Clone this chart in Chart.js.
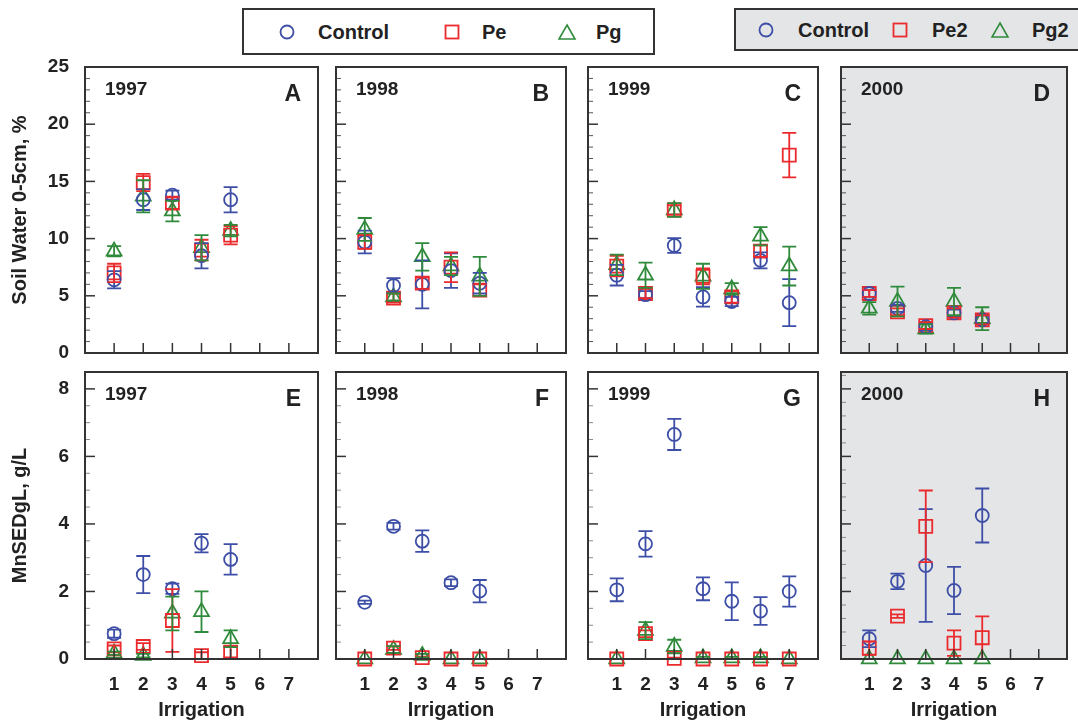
<!DOCTYPE html>
<html><head><meta charset="utf-8">
<script src="https://cdn.jsdelivr.net/npm/chart.js@4.4.1/dist/chart.umd.min.js"></script>
<style>
html,body{margin:0;padding:0;background:#fff;}
body{width:1078px;height:727px;overflow:hidden;position:relative;font-family:"Liberation Sans",Arial,sans-serif;}
canvas{position:absolute;}
.legend{position:absolute;box-sizing:border-box;border:2px solid #333;font-weight:bold;color:#222;}
.legend span{position:absolute;top:50%;transform:translateY(-50%);white-space:nowrap;}
.legend svg{position:absolute;top:50%;transform:translate(-50%,-50%);overflow:visible;}
</style></head><body>

<div class="legend" style="left:242px;top:8px;width:413px;height:47px;background:#fff;font-size:20px;">
  <svg width="16" height="16" style="left:43px"><circle cx="8" cy="8" r="6.5" fill="none" stroke="#3d4ea6" stroke-width="1.8"/></svg>
  <span style="left:74px">Control</span>
  <svg width="16" height="16" style="left:208px"><rect x="1.5" y="1.5" width="13" height="13" fill="none" stroke="#ea2a2d" stroke-width="1.8"/></svg>
  <span style="left:238px">Pe</span>
  <svg width="18" height="16" style="left:323px"><polygon points="9,1 17,15 1,15" fill="none" stroke="#2f8a3b" stroke-width="1.6"/></svg>
  <span style="left:352px">Pg</span>
</div>
<div class="legend" style="left:734px;top:8px;width:350px;height:43px;background:#e4e5e7;font-size:20px;">
  <svg width="16" height="16" style="left:30px"><circle cx="8" cy="8" r="6.5" fill="none" stroke="#3d4ea6" stroke-width="1.8"/></svg>
  <span style="left:62px">Control</span>
  <svg width="16" height="16" style="left:164px"><rect x="1.5" y="1.5" width="13" height="13" fill="none" stroke="#ea2a2d" stroke-width="1.8"/></svg>
  <span style="left:196px">Pe2</span>
  <svg width="18" height="16" style="left:264px"><polygon points="9,1 17,15 1,15" fill="none" stroke="#2f8a3b" stroke-width="1.6"/></svg>
  <span style="left:296px">Pg2</span>
</div>

<script>
// ---------------- DATA ----------------
const irrigation5 = [1, 2, 3, 4, 5];
const irrigation7 = [1, 2, 3, 4, 5, 6, 7];
const xTickLabels = ['1', '2', '3', '4', '5', '6', '7'];

// Soil water 0-5cm (%) : mean values and error half-widths
const swControl1997 = [6.4, 13.4, 13.8, 8.5, 13.4];
const swControl1997Err = [0.75, 0.9, 0.4, 1.1, 1.1];
const swPe1997 = [7.0, 14.9, 13.1, 9.0, 10.3];
const swPe1997Err = [0.8, 0.75, 0.5, 0.9, 0.8];
const swPg1997 = [8.9, 13.7, 12.4, 9.2, 10.7];
const swPg1997Err = [0.45, 1.4, 0.9, 1.1, 0.5];

const swControl1998 = [9.7, 5.9, 6.0, 7.2, 6.1];
const swControl1998Err = [1.0, 0.65, 2.1, 1.5, 0.9];
const swPe1998 = [9.7, 4.8, 6.1, 7.5, 5.5];
const swPe1998Err = [0.6, 0.4, 0.5, 1.3, 0.5];
const swPg1998 = [10.8, 4.9, 8.4, 7.6, 6.7];
const swPg1998Err = [1.0, 0.3, 1.2, 0.8, 1.7];

const swControl1999 = [6.8, 5.1, 9.4, 4.9, 4.5, 8.1, 4.4];
const swControl1999Err = [0.9, 0.3, 0.65, 0.85, 0.4, 0.7, 2.05];
const swPe1999 = [7.6, 5.2, 12.5, 6.7, 4.9, 8.9, 17.3];
const swPe1999Err = [0.9, 0.4, 0.4, 0.7, 0.5, 0.5, 1.95];
const swPg1999 = [7.7, 6.8, 12.5, 6.7, 5.6, 10.2, 7.6];
const swPg1999Err = [0.9, 1.1, 0.6, 1.1, 0.5, 0.8, 1.7];

const swControl2000 = [5.2, 3.9, 2.3, 3.5, 2.9];
const swControl2000Err = [0.3, 0.3, 0.3, 0.3, 0.4];
const swPe2_2000 = [5.2, 3.6, 2.4, 3.5, 2.9];
const swPe2_2000Err = [0.3, 0.3, 0.3, 0.4, 0.4];
const swPg2_2000 = [3.9, 4.5, 2.1, 4.5, 3.0];
const swPg2_2000Err = [0.55, 1.3, 0.4, 1.2, 1.0];

// MnSEDgL (g/L)
const sedControl1997 = [0.75, 2.5, 2.08, 3.43, 2.95];
const sedControl1997Err = [0.12, 0.55, 0.15, 0.27, 0.45];
const sedPe1997 = [0.3, 0.37, 1.14, 0.1, 0.2];
const sedPe1997Err = [0.1, 0.1, 0.93, 0.1, 0.15];
const sedPg1997 = [0.17, 0.1, 1.35, 1.4, 0.6];
const sedPg1997Err = [0.05, 0.05, 0.5, 0.6, 0.25];

const sedControl1998 = [1.68, 3.93, 3.49, 2.26, 2.01];
const sedControl1998Err = [0.05, 0.1, 0.32, 0.1, 0.33];
const sedPe1998 = [0, 0.32, 0.04, 0, 0];
const sedPe1998Err = [0, 0.05, 0.03, 0, 0];
const sedPg1998 = [0, 0.28, 0.1, 0, 0];
const sedPg1998Err = [0, 0.1, 0.05, 0, 0];

const sedControl1999 = [2.05, 3.41, 6.65, 2.08, 1.71, 1.42, 2.0];
const sedControl1999Err = [0.34, 0.38, 0.46, 0.34, 0.56, 0.41, 0.45];
const sedPe1999 = [0, 0.75, 0.02, 0, 0, 0, 0];
const sedPe1999Err = [0, 0.1, 0.02, 0, 0, 0, 0];
const sedPg1999 = [0, 0.84, 0.37, 0.03, 0.03, 0.03, 0];
const sedPg1999Err = [0, 0.25, 0.2, 0.03, 0.03, 0.03, 0];

const sedControl2000 = [0.6, 2.3, 2.77, 2.03, 4.25];
const sedControl2000Err = [0.25, 0.23, 1.67, 0.7, 0.8];
const sedPe2_2000 = [0.32, 1.27, 3.93, 0.47, 0.63];
const sedPe2_2000Err = [0.2, 0.05, 1.06, 0.38, 0.63];
const sedPg2_2000 = [0, 0, 0, 0, 0];
const sedPg2_2000Err = [0, 0, 0, 0, 0];

const yTitleTop = 'Soil Water 0-5cm, %';
const yTitleBottom = 'MnSEDgL, g/L';
const xTitle = 'Irrigation';

// ---------------- STYLE / LAYOUT ----------------
const BLUE = '#3d4ea6', RED = '#ea2a2d', GREEN = '#2f8a3b', GREYBG = '#e4e5e7';
const FONT = '"Liberation Sans", Arial, sans-serif';
const colLeft = [85, 333, 585, 838];
const panelW = 238;
const rowTop = [67, 372], rowBottom = [353, 659];

const panels = [
  {letter:'A', year:'1997', row:0, col:0, x:irrigation5, s:[[swControl1997, swControl1997Err],[swPe1997, swPe1997Err],[swPg1997, swPg1997Err]]},
  {letter:'B', year:'1998', row:0, col:1, x:irrigation5, s:[[swControl1998, swControl1998Err],[swPe1998, swPe1998Err],[swPg1998, swPg1998Err]]},
  {letter:'C', year:'1999', row:0, col:2, x:irrigation7, s:[[swControl1999, swControl1999Err],[swPe1999, swPe1999Err],[swPg1999, swPg1999Err]]},
  {letter:'D', year:'2000', row:0, col:3, x:irrigation5, bg:GREYBG, s:[[swControl2000, swControl2000Err],[swPe2_2000, swPe2_2000Err],[swPg2_2000, swPg2_2000Err]]},
  {letter:'E', year:'1997', row:1, col:0, x:irrigation5, s:[[sedControl1997, sedControl1997Err],[sedPe1997, sedPe1997Err],[sedPg1997, sedPg1997Err]]},
  {letter:'F', year:'1998', row:1, col:1, x:irrigation5, s:[[sedControl1998, sedControl1998Err],[sedPe1998, sedPe1998Err],[sedPg1998, sedPg1998Err]]},
  {letter:'G', year:'1999', row:1, col:2, x:irrigation7, s:[[sedControl1999, sedControl1999Err],[sedPe1999, sedPe1999Err],[sedPg1999, sedPg1999Err]]},
  {letter:'H', year:'2000', row:1, col:3, x:irrigation5, bg:GREYBG, minor:0.4, s:[[sedControl2000, sedControl2000Err],[sedPe2_2000, sedPe2_2000Err],[sedPg2_2000, sedPg2_2000Err]]},
];

const seriesStyle = [
  {color:BLUE, pointStyle:'circle', radius:6.5},
  {color:RED, pointStyle:'rect', radius:9.2},
  {color:GREEN, pointStyle:'triangle', radius:8.6},
];

const decoPlugin = {
  id: 'deco',
  beforeDatasetsDraw(chart, args, o) {
    const {ctx, chartArea:a} = chart;
    if (o.bg) {
      ctx.save(); ctx.fillStyle = o.bg;
      ctx.fillRect(a.left, a.top, a.right - a.left, a.bottom - a.top);
      ctx.restore();
    }
  },
  afterDatasetsDraw(chart, args, o) {
    const {ctx} = chart, xs = chart.scales.x, ys = chart.scales.y;
    chart.data.datasets.forEach(ds => {
      ctx.save(); ctx.strokeStyle = ds.borderColor; ctx.lineWidth = 1.8;
      ds.data.forEach((p, i) => {
        const e = ds.errors[i];
        if (!e) return;
        const px = xs.getPixelForValue(p.x);
        const y1 = ys.getPixelForValue(p.y + e), y2 = ys.getPixelForValue(p.y - e);
        ctx.beginPath();
        ctx.moveTo(px, y1); ctx.lineTo(px, y2);
        ctx.moveTo(px - 7, y1); ctx.lineTo(px + 7, y1);
        ctx.moveTo(px - 7, y2); ctx.lineTo(px + 7, y2);
        ctx.stroke();
      });
      ctx.restore();
    });
  },
  afterDraw(chart, args, o) {
    const {ctx, chartArea:a} = chart, xs = chart.scales.x, ys = chart.scales.y;
    ctx.save();
    // inward y ticks
    const n = Math.round(o.ymax / o.minor);
    for (let k = 0; k <= n; k++) {
      const v = k * o.minor;
      const r = v / o.major;
      const major = Math.abs(r - Math.round(r)) < 1e-6;
      const py = ys.getPixelForValue(v);
      if (py < a.top + 1) continue;
      ctx.beginPath();
      ctx.strokeStyle = major ? '#333' : o.minorColor;
      ctx.lineWidth = major ? 1.5 : 1;
      ctx.moveTo(a.left, py); ctx.lineTo(a.left + (major ? 10 : 5), py);
      ctx.stroke();
    }
    // inward x ticks
    for (let v = 1; v <= 7; v++) {
      const px = xs.getPixelForValue(v);
      ctx.beginPath(); ctx.strokeStyle = '#333'; ctx.lineWidth = 1.5;
      ctx.moveTo(px, a.bottom); ctx.lineTo(px, a.bottom - 10); ctx.stroke();
    }
    // frame
    ctx.strokeStyle = '#333'; ctx.lineWidth = 2;
    ctx.strokeRect(a.left, a.top, a.right - a.left, a.bottom - a.top);
    // texts
    ctx.fillStyle = '#222';
    ctx.textBaseline = 'middle';
    ctx.font = 'bold 19px ' + FONT;
    ctx.textAlign = 'left';
    ctx.fillText(o.year, a.left + 20, a.top + 23);
    ctx.font = 'bold 23px ' + FONT;
    ctx.textAlign = 'right';
    ctx.fillText(o.letter, a.right - 17, a.top + 28);
    ctx.restore();
  }
};

function zeroPad(s) { s.paddingTop = 0; s.paddingBottom = 0; s.paddingLeft = 0; s.paddingRight = 0; }

panels.forEach(p => {
  const L = colLeft[p.col], T = rowTop[p.row], B = rowBottom[p.row];
  const top = p.row === 0;
  const showY = p.col === 0, showX = !top;
  const ml = showY ? L : 8;
  const mr = p.col === 3 ? 2 : 6;
  const mt = 14;
  const mb = top ? 14 : 727 - B;
  const cv = document.createElement('canvas');
  const w = panelW + ml + mr, h = (B - T) + mt + mb;
  cv.width = w; cv.height = h;
  cv.style.left = (L - ml) + 'px'; cv.style.top = (T - mt) + 'px';
  cv.style.width = w + 'px'; cv.style.height = h + 'px';
  document.body.appendChild(cv);

  const datasets = p.s.map((pair, si) => {
    const st = seriesStyle[si];
    return {
      data: pair[0].map((v, i) => ({x: p.x[i], y: v})),
      errors: pair[1],
      borderColor: st.color,
      backgroundColor: 'rgba(0,0,0,0)',
      pointStyle: st.pointStyle,
      pointRadius: st.radius,
      pointHoverRadius: st.radius,
      pointBorderWidth: 1.8,
      showLine: false,
      clip: false,
    };
  });

  new Chart(cv, {
    type: 'scatter',
    data: {datasets},
    options: {
      responsive: false, animation: false, devicePixelRatio: 1,
      events: [],
      layout: {padding: {left: showY ? 0 : ml, right: mr, top: mt, bottom: showX ? 0 : mb}},
      plugins: {
        legend: {display: false}, tooltip: {enabled: false},
        deco: {bg: p.bg, year: p.year, letter: p.letter,
               ymax: top ? 25 : 8.5, major: top ? 5 : 2,
               minor: p.minor || (top ? 1 : 0.5),
               minorColor: top ? '#555' : '#8a8a8a'}
      },
      scales: {
        x: {
          type: 'linear', min: 0, max: 8,
          display: showX,
          grid: {display: false, drawTicks: false},
          border: {display: false},
          ticks: {stepSize: 1, autoSkip: false, maxRotation: 0, padding: 14,
                  color: '#222', font: {family: FONT, size: 19, weight: 'bold'},
                  callback: v => (v >= 1 && v <= 7) ? xTickLabels[v - 1] : ''},
          title: {display: showX, text: xTitle, color: '#222',
                  font: {family: FONT, size: 20, weight: 'bold'}, padding: {top: 0, bottom: 5}},
          afterFit: s => { zeroPad(s); if (showX) s.height = mb; }
        },
        y: {
          type: 'linear', min: 0, max: top ? 25 : 8.5,
          display: showY,
          grid: {display: false, drawTicks: false},
          border: {display: false},
          ticks: {stepSize: top ? 5 : 2, includeBounds: false, padding: 16,
                  color: '#222', font: {family: FONT, size: 19, weight: 'bold'}},
          title: {display: showY, text: top ? yTitleTop : yTitleBottom, color: '#222',
                  font: {family: FONT, size: 20, weight: 'bold'}, padding: {top: 8, bottom: 0}},
          afterFit: s => { zeroPad(s); if (showY) s.width = L; }
        }
      }
    },
    plugins: [decoPlugin]
  });
});
</script>
</body></html>
